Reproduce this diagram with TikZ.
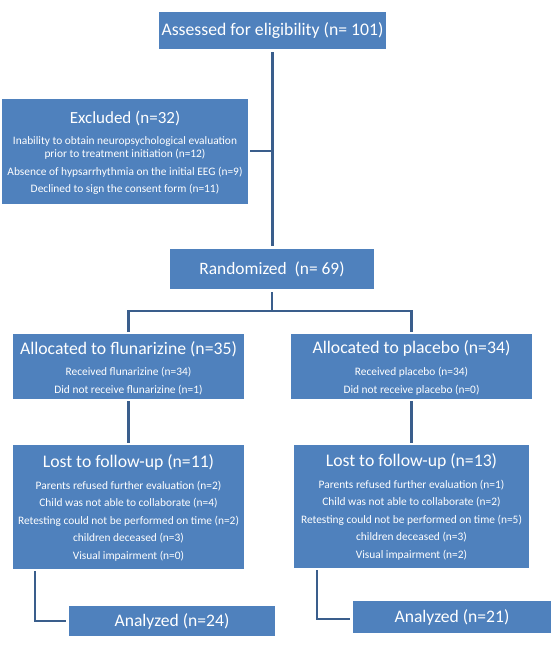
\documentclass[tikz,border=0pt]{standalone}
\usepackage{fontspec}
\setmainfont{Carlito}
\definecolor{boxblue}{RGB}{79,129,189}
\definecolor{lineblue}{RGB}{58,94,140}
\begin{document}
\begin{tikzpicture}[x=1pt,y=-1pt,
	box/.style={fill=boxblue,draw=none,inner sep=0pt,text=white},
	head/.style={text=white,inner sep=0pt,font=\fontsize{17.7}{20}\selectfont},
	sub/.style={text=white,inner sep=0pt,font=\fontsize{11.4}{13}\selectfont},
	conn/.style={draw=lineblue,line width=2.6pt}]
	\useasboundingbox (0,0) rectangle (551,649);

	% boxes
	\node[box,minimum width=227,minimum height=37,font=\fontsize{17.7}{20}\selectfont] (assess) at (272.5,30.5) {Assessed for eligibility (n= 101)};
	\node[box,minimum width=246,minimum height=105] (excl) at (125,151) {};
	\node[box,minimum width=204,minimum height=40,font=\fontsize{17.4}{20}\selectfont] (rand) at (272,269) {Randomized\ \ (n= 69)};
	\node[box,minimum width=231,minimum height=65] (allocF) at (128.5,366.5) {};
	\node[box,minimum width=241,minimum height=65] (allocP) at (411.5,366.5) {};
	\node[box,minimum width=231,minimum height=124] (lostF) at (128.5,507) {};
	\node[box,minimum width=235,minimum height=123] (lostP) at (411.5,506.5) {};
	\node[box,minimum width=206,minimum height=30,font=\fontsize{17.6}{20}\selectfont] (anaF) at (172,621) {Analyzed (n=24)};
	\node[box,minimum width=198,minimum height=32,font=\fontsize{17.6}{20}\selectfont] (anaP) at (452,617) {Analyzed (n=21)};

	% texts
	\node[head,font=\fontsize{17}{20}\selectfont] (exclT) at (125,118) {Excluded (n=32)};
	\node[sub] (exclA) at (125,142) {Inability to obtain neuropsychological evaluation};
	\node[sub] (exclB) at (125,154.5) {prior to treatment initiation (n=12)};
	\node[sub] (exclC) at (125,172) {Absence of hypsarrhythmia on the initial EEG (n=9)};
	\node[sub] (exclD) at (125,189) {Declined to sign the consent form (n=11)};

	\node[head] (allocFT) at (128.5,349) {Allocated to flunarizine (n=35)};
	\node[sub] (allocFa) at (128.5,372) {Received flunarizine (n=34)};
	\node[sub] (allocFb) at (128.5,390) {Did not receive flunarizine (n=1)};
	\node[head] (allocPT) at (411.5,348) {Allocated to placebo (n=34)};
	\node[sub] (allocPa) at (411.5,372) {Received placebo (n=34)};
	\node[sub] (allocPb) at (411.5,390.5) {Did not receive placebo (n=0)};

	\node[head] (lostFT) at (128.5,462) {Lost to follow-up (n=11)};
	\foreach \t [count=\i] in {Parents refused further evaluation (n=2),Child was not able to collaborate (n=4),Retesting could not be performed on time (n=2),children deceased (n=3),Visual impairment (n=0)} {
		\node[sub] (lostF\i) at (128.5,{468.5+17.5*\i}) {\t};
	}
	\node[head] (lostPT) at (411.5,461) {Lost to follow-up (n=13)};
	\foreach \t [count=\i] in {Parents refused further evaluation (n=1),Child was not able to collaborate (n=2),Retesting could not be performed on time (n=5),children deceased (n=3),Visual impairment (n=2)} {
		\node[sub] (lostP\i) at (411.5,{467.5+17.5*\i}) {\t};
	}

	% connectors
	\coordinate (exclJ) at (excl.east -| assess.south);
	\coordinate (split) at (272,311);
	\draw[conn,shorten <=3pt,shorten >=3pt] (assess.south) -- (assess.south |- rand.north);
	\draw[conn,shorten <=2pt] (excl.east) -- (exclJ);
	\draw[conn,shorten <=3pt] (rand.south) -- (split);
	\draw[conn,shorten <=2pt,shorten >=2pt] (allocF.north) |- (split) -| (allocP.north);
	\draw[conn,shorten <=2pt,shorten >=2pt] (allocF.south) -- (lostF.north);
	\draw[conn,shorten <=2pt,shorten >=2pt] (allocP.south) -- (lostP.north);
	\draw[conn,shorten <=2pt,shorten >=3pt] ([xshift=22pt]lostF.south west) |- (anaF.west);
	\draw[conn,shorten <=2pt,shorten >=3pt] ([xshift=23pt]lostP.south west) |- ([yshift=-2pt]anaP.west);
\end{tikzpicture}
\end{document}
